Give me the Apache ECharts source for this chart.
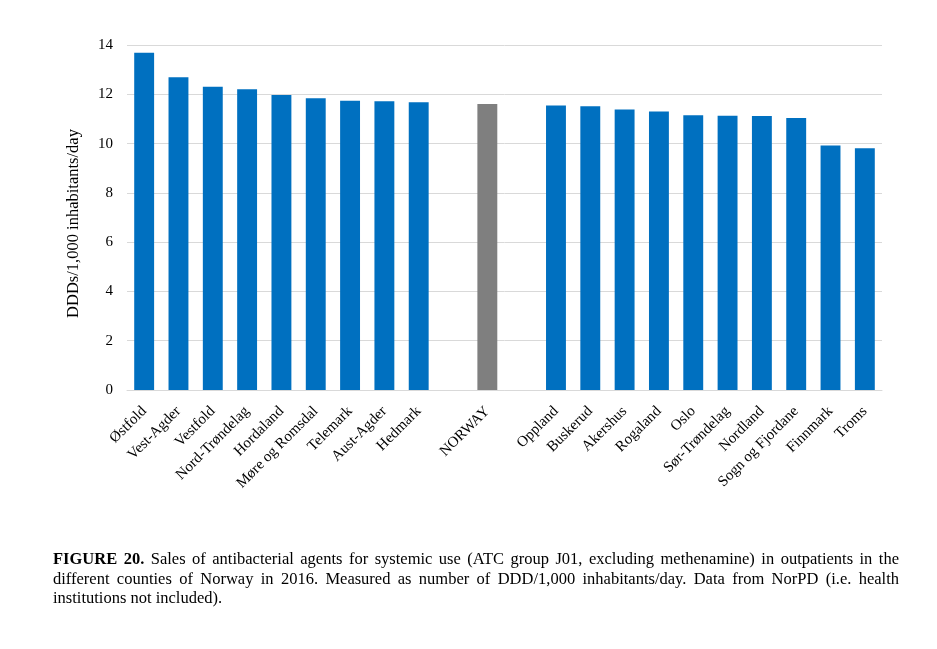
<!DOCTYPE html>
<html>
<head>
<meta charset="utf-8">
<script src="https://cdn.jsdelivr.net/npm/echarts@6/dist/echarts.min.js"></script>
<style>
  html, body { margin: 0; padding: 0; background: #fff; }
  #chart { width: 937px; height: 649px; }
  #caption {
    position: absolute; left: 53px; top: 549px; width: 846px;
    font-family: 'Liberation Serif', 'Times New Roman', serif;
    font-size: 16.5px; line-height: 19.5px; color: #000;
  }
  #caption .j { display: block; text-align: justify; text-align-last: justify; white-space: nowrap; }
  #caption .l { display: block; }
</style>
</head>
<body>
<div id="chart"></div>
<div id="caption"><span class="j"><b>FIGURE 20.</b> Sales of antibacterial agents for systemic use (ATC group J01, excluding methenamine) in outpatients in the</span><span class="j">different counties of Norway in 2016. Measured as number of DDD/1,000 inhabitants/day. Data from NorPD (i.e. health</span><span class="l">institutions not included).</span></div>
<script>
const categories = ['Østfold', 'Vest-Agder', 'Vestfold', 'Nord-Trøndelag', 'Hordaland', 'Møre og Romsdal', 'Telemark', 'Aust-Agder', 'Hedmark', '', 'NORWAY', '', 'Oppland', 'Buskerud', 'Akershus', 'Rogaland', 'Oslo', 'Sør-Trøndelag', 'Nordland', 'Sogn og Fjordane', 'Finnmark', 'Troms'];
const values = [13.69, 12.69, 12.31, 12.20, 11.97, 11.84, 11.74, 11.72, 11.68, null, 11.61, null, 11.54, 11.51, 11.38, 11.30, 11.15, 11.13, 11.12, 11.04, 9.92, 9.81];
const highlight = 'NORWAY';
const yTicks = { min: 0, max: 14, interval: 2 };
const yName = 'DDDs/1,000 inhabitants/day';

const serif = "'Liberation Serif', 'Times New Roman', serif";
const chart = echarts.init(document.getElementById('chart'), null, { renderer: 'canvas' });
chart.setOption({
  animation: false,
  grid: { left: 127, right: 55, top: 45, bottom: 259, containLabel: false },
  xAxis: {
    type: 'category',
    data: categories,
    axisLine: { show: true, lineStyle: { color: '#D9D9D9', width: 1 } },
    axisTick: { show: false },
    axisLabel: {
      interval: 0, rotate: 45, margin: 19,
      fontFamily: serif, fontSize: 15, color: '#000'
    }
  },
  yAxis: {
    type: 'value',
    min: yTicks.min, max: yTicks.max, interval: yTicks.interval,
    name: yName, nameLocation: 'middle', nameGap: 45,
    nameTextStyle: { fontFamily: serif, fontSize: 16.5, color: '#000', padding: [0, 12, 0, 0] },
    axisLine: { show: false },
    axisTick: { show: false },
    axisLabel: { fontFamily: serif, fontSize: 15, color: '#000', margin: 14 },
    splitLine: { lineStyle: { color: '#D9D9D9', width: 1 } }
  },
  series: [{
    type: 'bar',
    barWidth: '58%',
    data: values.map((v, i) => ({
      value: v === null ? '-' : v,
      itemStyle: { color: categories[i] === highlight ? '#7F7F7F' : '#0070C0' }
    }))
  }]
});
</script>
</body>
</html>
